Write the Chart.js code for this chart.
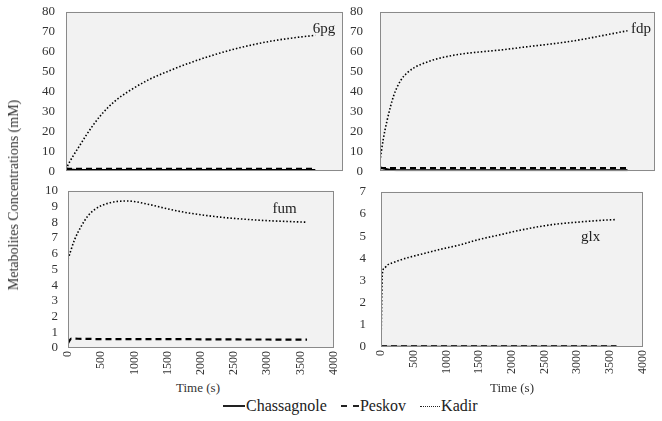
<!DOCTYPE html>
<html>
<head>
<meta charset="utf-8">
<script src="https://cdn.jsdelivr.net/npm/chart.js@4.4.1/dist/chart.umd.min.js"></script>
<style>
  body { margin: 0; width: 662px; height: 421px; background: #fff; position: relative; overflow: hidden;
         font-family: 'Liberation Serif', 'Times New Roman', serif; color: #333; }
  .panel { position: absolute; }
  .ytitle { position: absolute; left: 14px; top: 195px; transform: translate(-50%, -50%) rotate(-90deg);
            white-space: nowrap; font-size: 14px; }
  .xtitle { position: absolute; top: 388px; transform: translate(-50%, -50%); font-size: 13px; white-space: nowrap; }
  .legend { position: absolute; left: 223px; top: 397px; display: flex; align-items: center; font-size: 16px; color: #222; }
  .legend .item { display: flex; align-items: center; margin-right: 14px; }
  .legend .swatch { width: 22px; height: 0; border-top: 2px solid #222; margin-right: 1px; }
  .legend .swatch.dash { border-top-style: dashed; width: 18px; }
  .legend .swatch.dot { border-top-style: dotted; border-top-width: 1.5px; width: 20px; }
</style>
</head>
<body>

<div class="panel" style="left:20px;top:4px;width:325px;height:175px"><canvas id="c6pg"></canvas></div>
<div class="panel" style="left:340px;top:4px;width:317px;height:175px"><canvas id="cfdp"></canvas></div>
<div class="panel" style="left:20px;top:183px;width:328px;height:195px"><canvas id="cfum"></canvas></div>
<div class="panel" style="left:340px;top:184px;width:317px;height:193px"><canvas id="cglx"></canvas></div>

<div class="ytitle">Metabolites Concentrations (mM)</div>
<div class="xtitle" style="left:198px">Time (s)</div>
<div class="xtitle" style="left:512px">Time (s)</div>

<div class="legend">
  <div class="item"><span class="swatch"></span>Chassagnole</div>
  <div class="item"><span class="swatch dash"></span>Peskov</div>
  <div class="item"><span class="swatch dot"></span>Kadir</div>
</div>

<script>
// time points (s)
const times = [0, 20, 50, 100, 200, 300, 400, 500, 700, 900, 1200, 1500, 1800, 2100, 2400, 2700, 3000, 3300, 3600];

// 6pg
const kadir6pg = [1, 2.5, 4.5, 7.5, 13, 18.5, 23.5, 28, 35, 40, 46, 50.5, 54.5, 58, 61, 63.5, 65.5, 67, 68.2];
const chass6pg = [1.5, 1.2, 0.9, 0.7, 0.6, 0.6, 0.6, 0.6, 0.6, 0.6, 0.6, 0.6, 0.6, 0.6, 0.6, 0.6, 0.6, 0.6, 0.6];
const peskov6pg = [1.2, 1.2, 1.2, 1.2, 1.2, 1.2, 1.2, 1.2, 1.2, 1.2, 1.2, 1.2, 1.2, 1.2, 1.2, 1.2, 1.2, 1.2, 1.2];

// fdp
const kadirFdp = [5, 10, 16.5, 25, 38, 45.5, 49.5, 52, 55, 57, 58.9, 60, 61, 62.3, 63.5, 64.8, 66.5, 68.5, 70.5];
const chassFdp = [2, 1.8, 1.5, 1, 0.6, 0.5, 0.5, 0.5, 0.5, 0.5, 0.5, 0.5, 0.5, 0.5, 0.5, 0.5, 0.5, 0.5, 0.5];
const peskovFdp = [1.5, 1.5, 1.5, 1.5, 1.5, 1.5, 1.5, 1.5, 1.5, 1.5, 1.5, 1.5, 1.5, 1.5, 1.5, 1.5, 1.5, 1.5, 1.5];

// fum
const kadirFum = [5.66, 5.9, 6.3, 6.9, 7.75, 8.4, 8.8, 9.05, 9.3, 9.35, 9.15, 8.85, 8.6, 8.42, 8.28, 8.18, 8.1, 8.05, 8.0];
const peskovFum = [0.3, 0.45, 0.6, 0.6, 0.58, 0.58, 0.57, 0.57, 0.57, 0.57, 0.56, 0.56, 0.56, 0.55, 0.55, 0.54, 0.54, 0.53, 0.53];

// glx
const kadirGlx = [0, 3.3, 3.55, 3.7, 3.82, 3.93, 4.02, 4.1, 4.25, 4.4, 4.6, 4.85, 5.05, 5.25, 5.42, 5.55, 5.63, 5.7, 5.75];
const chassGlx = [0.01, 0.01, 0.01, 0.01, 0.01, 0.01, 0.01, 0.01, 0.01, 0.01, 0.01, 0.01, 0.01, 0.01, 0.01, 0.01, 0.01, 0.01, 0.01];
const peskovGlx = [0.03, 0.03, 0.03, 0.03, 0.03, 0.03, 0.03, 0.03, 0.03, 0.03, 0.03, 0.03, 0.03, 0.03, 0.03, 0.03, 0.03, 0.03, 0.03];

const xTicks = [0, 500, 1000, 1500, 2000, 2500, 3000, 3500, 4000];

const FONT = "'Liberation Serif', 'Times New Roman', serif";
Chart.defaults.font.family = FONT;

// plot background, frame and metabolite name
const framePlugin = {
  id: 'frame',
  beforeDraw(chart) {
    const a = chart.chartArea, ctx = chart.ctx;
    ctx.save();
    ctx.fillStyle = '#f2f2f2';
    ctx.fillRect(a.left, a.top, a.right - a.left, a.bottom - a.top);
    ctx.restore();
  },
  afterDraw(chart, args, opts) {
    const a = chart.chartArea, ctx = chart.ctx;
    ctx.save();
    ctx.strokeStyle = '#8a8a8a';
    ctx.lineWidth = 1;
    ctx.strokeRect(Math.round(a.left) + 0.5, Math.round(a.top) + 0.5,
                   Math.round(a.right - a.left) - 1, Math.round(a.bottom - a.top) - 1);
    ctx.fillStyle = '#222';
    ctx.font = '15px ' + FONT;
    ctx.textAlign = 'center';
    ctx.textBaseline = 'alphabetic';
    ctx.fillText(opts.text, a.right - opts.dx, a.top + opts.dy);
    ctx.restore();
  }
};

function series(ys) {
  return ys.map((y, i) => ({ x: times[i], y: y }));
}

function line(label, ys, style) {
  const base = {
    label: label,
    data: series(ys),
    borderColor: '#000',
    pointRadius: 0,
    cubicInterpolationMode: 'monotone',
    fill: false
  };
  if (style === 'solid') return Object.assign(base, { borderWidth: 2 });
  if (style === 'dash') return Object.assign(base, { borderWidth: 2.2, borderDash: [6, 4] });
  return Object.assign(base, { borderWidth: 1.6, borderDash: [1.5, 2] });
}

function makeChart(id, datasets, cfg) {
  new Chart(document.getElementById(id), {
    type: 'line',
    data: { datasets: datasets },
    options: {
      responsive: true,
      maintainAspectRatio: false,
      animation: false,
      layout: { padding: { top: 0, right: 2, bottom: 0, left: 0 } },
      plugins: {
        legend: { display: false },
        tooltip: { enabled: false },
        frame: { text: cfg.name, dx: cfg.dx, dy: cfg.dy }
      },
      scales: {
        x: {
          type: 'linear',
          min: 0, max: 4000,
          display: cfg.showX,
          afterBuildTicks: s => { s.ticks = xTicks.map(v => ({ value: v })); },
          afterFit: s => { if (cfg.showX) s.height = 30; },
          grid: { display: false, drawTicks: true, tickLength: 3 },
          border: { display: false },
          ticks: {
            autoSkip: false, minRotation: 90, maxRotation: 90, padding: 0, color: '#333',
            font: { family: FONT, size: 12 }, callback: v => String(v)
          }
        },
        y: {
          min: 0, max: cfg.yMax,
          afterFit: s => { s.width = cfg.yWidth; },
          grid: { display: false, drawTicks: true, tickLength: cfg.yPad },
          border: { display: false },
          ticks: {
            autoSkip: false, stepSize: cfg.yStep, padding: 0, color: '#333',
            font: { family: FONT, size: 13 }, callback: v => String(v)
          }
        }
      }
    },
    plugins: [framePlugin]
  });
}

makeChart('c6pg', [
  line('Chassagnole', chass6pg, 'solid'),
  line('Peskov', peskov6pg, 'dash'),
  line('Kadir', kadir6pg, 'dot')
], { name: '6pg', dx: 19, dy: 21, yMax: 80, yStep: 10, yWidth: 46, yPad: 11, showX: false });

makeChart('cfdp', [
  line('Chassagnole', chassFdp, 'solid'),
  line('Peskov', peskovFdp, 'dash'),
  line('Kadir', kadirFdp, 'dot')
], { name: 'fdp', dx: 14, dy: 21, yMax: 80, yStep: 10, yWidth: 40, yPad: 17, showX: false });

makeChart('cfum', [
  line('Peskov', peskovFum, 'dash'),
  line('Kadir', kadirFum, 'dot')
], { name: 'fum', dx: 49, dy: 22, yMax: 10, yStep: 1, yWidth: 48, yPad: 10, showX: true });

makeChart('cglx', [
  line('Chassagnole', chassGlx, 'solid'),
  line('Peskov', peskovGlx, 'dash'),
  line('Kadir', kadirGlx, 'dot')
], { name: 'glx', dx: 52, dy: 49, yMax: 7, yStep: 1, yWidth: 41, yPad: 15, showX: true });
</script>
</body>
</html>
